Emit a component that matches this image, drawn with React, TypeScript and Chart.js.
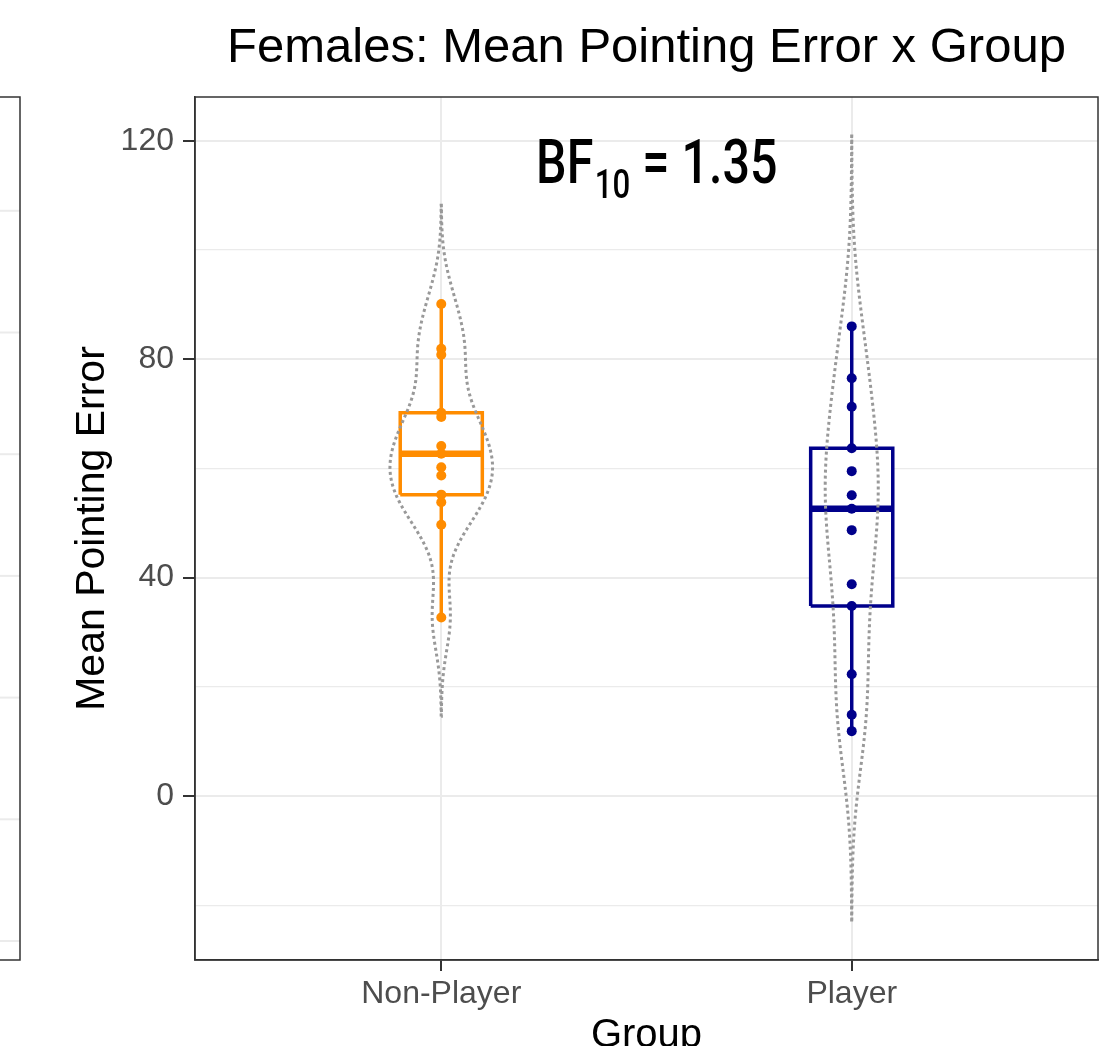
import React, { useEffect, useRef } from "react";
import { Chart, registerables } from "chart.js";

Chart.register(...registerables);

// ---------------- data ----------------
const categories = ["Non-Player", "Player"];
const nonPlayerErrors = [90.1, 81.9, 80.8, 70.2, 69.4, 64.1, 62.7, 60.2, 58.7, 55.2, 53.8, 49.7, 32.7];
const playerErrors = [86.0, 76.5, 71.3, 63.7, 59.5, 55.1, 52.6, 48.7, 38.8, 34.8, 22.3, 14.9, 11.9];
const groupColors = ["#FF8C00", "#00008B"];
const majorTicks = [0, 40, 80, 120];
const minorTicks = [-20, 20, 60, 100];
const yLimits = [-30, 128];
const titleText = "Females: Mean Pointing Error x Group";
const yTitle = "Mean Pointing Error";
const xTitle = "Group";
const bfBase = "BF";
const bfSub = "10";
const bfRest = " = 1.35";
const bfAnchor = { x: 1.525, y: 116.3 };
// gridlines of the neighbouring (cut-off) panel on the left
const neighbourGrid = [0, 10, 20, 30, 40, 50, 60];
const neighbourLimits = [-1.56, 69.35];

const BOX_WIDTH = 0.2;
const VIOLIN_WIDTH = 0.25;
const FONT = "'Liberation Sans', Arial, sans-serif";

// ---------------- stats helpers ----------------
function quantile7(vals: number[], p: number) {
  const s = [...vals].sort((a, b) => a - b);
  const h = (s.length - 1) * p;
  const lo = Math.floor(h);
  const hi = Math.min(lo + 1, s.length - 1);
  return s[lo] + (h - lo) * (s[hi] - s[lo]);
}
function bwNrd0(vals: number[]) {
  const n = vals.length;
  const mean = vals.reduce((a, b) => a + b, 0) / n;
  const sd = Math.sqrt(vals.reduce((a, b) => a + (b - mean) ** 2, 0) / (n - 1));
  const iqr = quantile7(vals, 0.75) - quantile7(vals, 0.25);
  const lo = Math.min(sd, iqr / 1.34);
  return 0.9 * lo * Math.pow(n, -0.2);
}
function kde(vals: number[]) {
  const bw = bwNrd0(vals);
  const lo = Math.min(...vals) - 3 * bw;
  const hi = Math.max(...vals) + 3 * bw;
  const N = 512;
  const out: { y: number; d: number }[] = [];
  for (let i = 0; i < N; i++) {
    const y = lo + ((hi - lo) * i) / (N - 1);
    let d = 0;
    for (const v of vals) d += Math.exp(-0.5 * ((y - v) / bw) ** 2);
    d /= vals.length * bw * Math.sqrt(2 * Math.PI);
    out.push({ y, d });
  }
  return out;
}

function buildDatasets() {
  const groups = [nonPlayerErrors, playerErrors];
  const dens = groups.map(kde);
  const dmax = Math.max(...dens.map((g) => Math.max(...g.map((p) => p.d))));
  const ds: any[] = [];
  groups.forEach((vals, gi) => {
    const c = gi + 1;
    const col = groupColors[gi];
    const q1 = quantile7(vals, 0.25);
    const med = quantile7(vals, 0.5);
    const q3 = quantile7(vals, 0.75);
    const lo = Math.min(...vals);
    const hi = Math.max(...vals);
    const hb = BOX_WIDTH / 2;
    const line = { showLine: true, pointRadius: 0, pointHoverRadius: 0, tension: 0, fill: false };
    ds.push({
      ...line,
      label: categories[gi] + " box",
      data: [
        { x: c - hb, y: q1 },
        { x: c + hb, y: q1 },
        { x: c + hb, y: q3 },
        { x: c - hb, y: q3 },
        { x: c - hb, y: q1 },
      ],
      borderColor: col,
      borderWidth: 3.5,
      borderJoinStyle: "miter",
      backgroundColor: "#FFFFFF",
      fill: "shape",
      order: 6,
    });
    ds.push({
      ...line,
      label: categories[gi] + " median",
      data: [
        { x: c - hb, y: med },
        { x: c + hb, y: med },
      ],
      borderColor: col,
      borderWidth: 6.5,
      borderCapStyle: "butt",
      order: 5,
    });
    const g = dens[gi];
    const half = (d: number) => ((VIOLIN_WIDTH / 2) * d) / dmax;
    const vdata = [
      ...g.map((p) => ({ x: c - half(p.d), y: p.y })),
      ...[...g].reverse().map((p) => ({ x: c + half(p.d), y: p.y })),
    ];
    vdata.push(vdata[0]);
    ds.push({
      ...line,
      label: categories[gi] + " violin",
      data: vdata,
      borderColor: "#999999",
      borderWidth: 3,
      borderDash: [3, 3],
      borderCapStyle: "butt",
      order: 4,
    });
    ds.push({
      ...line,
      label: categories[gi] + " upper whisker",
      data: [
        { x: c, y: q3 },
        { x: c, y: hi },
      ],
      borderColor: col,
      borderWidth: 3.5,
      order: 3,
    });
    ds.push({
      ...line,
      label: categories[gi] + " lower whisker",
      data: [
        { x: c, y: lo },
        { x: c, y: q1 },
      ],
      borderColor: col,
      borderWidth: 3.5,
      order: 3,
    });
    ds.push({
      label: categories[gi],
      data: vals.map((v) => ({ x: c, y: v })),
      showLine: false,
      pointRadius: 5,
      pointHoverRadius: 5,
      pointBackgroundColor: col,
      pointBorderWidth: 0,
      borderColor: col,
      order: 1,
    });
  });
  return ds;
}

const framePlugin = {
  id: "frame",
  beforeDatasetsDraw(chart: any) {
    const { ctx, chartArea } = chart;
    const yl = chart.scales.yL;
    const neighbourRight = 20;
    ctx.save();
    ctx.strokeStyle = "#EBEBEB";
    ctx.lineWidth = 2;
    neighbourGrid.forEach((v) => {
      const py = yl.getPixelForValue(v);
      ctx.beginPath();
      ctx.moveTo(0, py);
      ctx.lineTo(neighbourRight, py);
      ctx.stroke();
    });
    ctx.strokeStyle = "#333333";
    ctx.lineWidth = 1.5;
    ctx.beginPath();
    ctx.moveTo(0, chartArea.top);
    ctx.lineTo(neighbourRight, chartArea.top);
    ctx.lineTo(neighbourRight, chartArea.bottom);
    ctx.lineTo(0, chartArea.bottom);
    ctx.stroke();
    ctx.restore();
  },
  afterDraw(chart: any) {
    const { ctx, chartArea } = chart;
    ctx.save();
    ctx.strokeStyle = "#333333";
    ctx.lineWidth = 1.5;
    ctx.strokeRect(chartArea.left, chartArea.top, chartArea.right - chartArea.left, chartArea.bottom - chartArea.top);
    // BF annotation
    const xs = chart.scales.x;
    const ys = chart.scales.y;
    const cx = xs.getPixelForValue(bfAnchor.x);
    const cy = ys.getPixelForValue(bfAnchor.y);
    const sx = 0.78;
    const big = "500 62px Roboto";
    const small = "500 40px Roboto";
    ctx.fillStyle = "#000000";
    ctx.textBaseline = "alphabetic";
    ctx.textAlign = "left";
    ctx.font = big;
    const w1 = ctx.measureText(bfBase).width;
    const w3 = ctx.measureText(bfRest).width;
    ctx.font = small;
    const w2 = ctx.measureText(bfSub).width;
    const gap = 2;
    const total = (w1 + gap + w2 + w3) * sx;
    ctx.translate(cx - total / 2, cy + 22);
    ctx.scale(sx, 1);
    ctx.font = big;
    ctx.fillText(bfBase, 0, 0);
    ctx.font = small;
    ctx.fillText(bfSub, w1 + gap, 15);
    ctx.font = big;
    ctx.fillText(bfRest, w1 + gap + w2, 0);
    ctx.restore();
  },
};

export default function App() {
  const ref = useRef<HTMLCanvasElement | null>(null);
  useEffect(() => {
    if (!ref.current) return;
    const isMajor = (v: number) => majorTicks.includes(v);
    const chart = new Chart(ref.current, {
      type: "scatter",
      data: { datasets: buildDatasets() },
      options: {
        animation: false,
        responsive: true,
        maintainAspectRatio: false,
        events: [],
        layout: { padding: { left: 0, right: 18, top: 0, bottom: 0 } },
        plugins: {
          legend: { display: false },
          tooltip: { enabled: false },
          title: {
            display: true,
            text: titleText,
            color: "#000000",
            fullSize: false,
            font: { family: FONT, size: 49, weight: "normal" },
            padding: { top: 19, bottom: 19.2 },
          },
        },
        scales: {
          x: {
            type: "linear",
            position: "bottom",
            min: 0.4,
            max: 2.6,
            afterBuildTicks: (s: any) => {
              s.ticks = categories.map((_, i) => ({ value: i + 1 }));
            },
            afterFit: (s: any) => {
              s.height = 86;
              s.paddingLeft = 0;
              s.paddingRight = 0;
            },
            ticks: {
              autoSkip: false,
              maxRotation: 0,
              padding: 4,
              color: "#4D4D4D",
              font: { family: FONT, size: 32 },
              callback: (v: any) => categories[Math.round(v) - 1] ?? "",
            },
            grid: {
              color: "#EBEBEB",
              lineWidth: 2,
              tickLength: 11,
              tickColor: "#333333",
              tickWidth: 2,
            },
            border: { display: true, color: "#333333", width: 1.5 },
            title: {
              display: true,
              text: xTitle,
              color: "#000000",
              font: { family: FONT, size: 40 },
              padding: { top: 0, bottom: -14 },
            },
          },
          y: {
            type: "linear",
            position: "left",
            min: yLimits[0],
            max: yLimits[1],
            afterBuildTicks: (s: any) => {
              s.ticks = [...minorTicks, ...majorTicks].sort((a, b) => a - b).map((v) => ({ value: v }));
            },
            afterFit: (s: any) => {
              s.width = 195;
            },
            ticks: {
              padding: 9,
              color: "#4D4D4D",
              font: { family: FONT, size: 32 },
              callback: (v: any) => (isMajor(v) ? String(v) : ""),
            },
            grid: {
              color: "#EBEBEB",
              lineWidth: (c: any) => (c.tick && isMajor(c.tick.value) ? 2 : 1.3),
              tickLength: 12,
              tickColor: (c: any) => (c.tick && isMajor(c.tick.value) ? "#333333" : "rgba(0,0,0,0)"),
              tickWidth: 2,
            },
            border: { display: true, color: "#333333", width: 1.5 },
            title: {
              display: true,
              text: yTitle,
              color: "#000000",
              font: { family: FONT, size: 41 },
              padding: { top: 68, bottom: 0 },
            },
          },
          yL: {
            type: "linear",
            display: false,
            position: "left",
            min: neighbourLimits[0],
            max: neighbourLimits[1],
          },
        },
      } as any,
      plugins: [framePlugin],
    });
    return () => chart.destroy();
  }, []);
  return (
    <div style={{ position: "absolute", left: 0, top: 0, width: 1116, height: 1046, background: "#FFFFFF" }}>
      <canvas ref={ref} />
    </div>
  );
}
